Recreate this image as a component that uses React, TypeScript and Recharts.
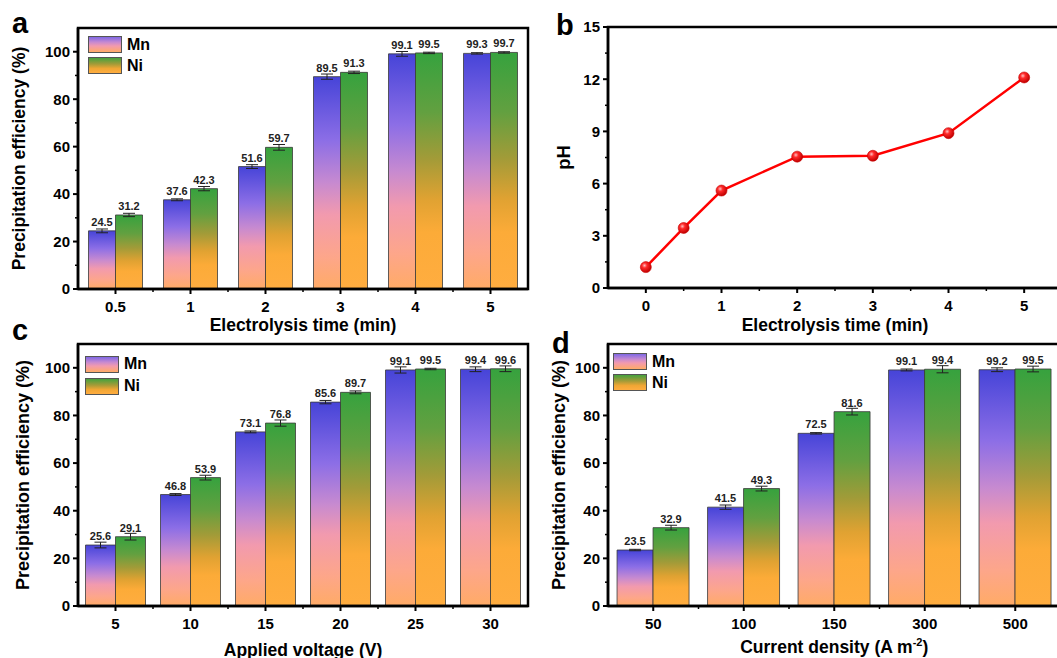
import React from 'react'
import { BarChart, Bar, LineChart, Line, XAxis, YAxis, ErrorBar, LabelList, Legend } from 'recharts'

const FONT = 'Arial, "Liberation Sans", Helvetica, sans-serif'

// (a) precipitation vs electrolysis time
const timeCategories = ['0.5', '1', '2', '3', '4', '5']
const mnByTime = [24.5, 37.6, 51.6, 89.5, 99.1, 99.3]
const niByTime = [31.2, 42.3, 59.7, 91.3, 99.5, 99.7]
const mnByTimeErr = [0.8, 0.4, 0.8, 1.1, 1.0, 0.3]
const niByTimeErr = [0.7, 0.9, 1.2, 0.5, 0.3, 0.3]

// (b) pH vs electrolysis time
const phTimes = [0, 0.5, 1, 2, 3, 4, 5]
const phValues = [1.2, 3.45, 5.6, 7.55, 7.6, 8.9, 12.1]

// (c) precipitation vs applied voltage
const voltageCategories = ['5', '10', '15', '20', '25', '30']
const mnByVoltage = [25.6, 46.8, 73.1, 85.6, 99.1, 99.4]
const niByVoltage = [29.1, 53.9, 76.8, 89.7, 99.5, 99.6]
const mnByVoltageErr = [1.2, 0.4, 0.4, 0.7, 1.3, 1.0]
const niByVoltageErr = [1.4, 1.0, 1.3, 0.6, 0.3, 1.2]

// (d) precipitation vs current density
const currentCategories = ['50', '100', '150', '300', '500']
const mnByCurrent = [23.5, 41.5, 72.5, 99.1, 99.2]
const niByCurrent = [32.9, 49.3, 81.6, 99.4, 99.5]
const mnByCurrentErr = [0.3, 0.9, 0.3, 0.4, 0.8]
const niByCurrentErr = [1.0, 1.0, 1.4, 1.5, 1.2]

// axis ticks (odd ones are minor, unlabeled)
const pctDomain = [0, 110]
const pctTicks = [0, 10, 20, 30, 40, 50, 60, 70, 80, 90, 100]
const phDomain = [0, 15]
const phTicks = [0, 1.5, 3, 4.5, 6, 7.5, 9, 10.5, 12, 13.5, 15]
const phTimeDomain = [-0.5, 5.5]
const phTimeTicks = [0, 0.5, 1, 1.5, 2, 2.5, 3, 3.5, 4, 4.5, 5]

const Y_AXIS_W = 78
const AXIS_W = 2.5
const axisStyle = { stroke: '#000', strokeWidth: AXIS_W }
const tickText = { fontFamily: FONT, fontSize: 15, fontWeight: 700, fill: '#000' }

interface Box {
  left: number
  top: number
  width: number
  height: number
  plotTop: number
  rightMargin: number
  xAxisHeight: number
}

const boxA: Box = { left: 0, top: 0, width: 540, height: 335, plotTop: 28, rightMargin: 12, xAxisHeight: 46 }
const boxB: Box = { left: 530, top: 0, width: 545, height: 335, plotTop: 27, rightMargin: 13, xAxisHeight: 47 }
const boxC: Box = { left: 0, top: 316, width: 540, height: 342, plotTop: 28, rightMargin: 12, xAxisHeight: 52 }
const boxD: Box = { left: 530, top: 316, width: 545, height: 342, plotTop: 28, rightMargin: 14.5, xAxisHeight: 52 }

const plotRect = (b: Box) => ({
  x: b.left + Y_AXIS_W,
  y: b.top + b.plotTop,
  w: b.width - Y_AXIS_W - b.rightMargin,
  h: b.height - b.plotTop - b.xAxisHeight,
})

const legendSwatch: Record<string, string> = {
  mn: 'linear-gradient(to bottom, #7f68e4 0%, #c78ad0 35%, #f29aae 60%, #ffab66 100%)',
  ni: 'linear-gradient(to bottom, #45a23e 0%, #a39b38 40%, #f0a634 70%, #ffad40 100%)',
}

function makeYTick(isMajor: (v: number) => boolean) {
  return (props: any) => {
    const { x, y, payload } = props
    const major = isMajor(payload.value)
    return (
      <g>
        <line x1={x - (major ? 5 : 3)} x2={x} y1={y} y2={y} stroke="#000" strokeWidth={major ? 2 : 1.5} />
        {major && (
          <text x={x - 8} y={y} dy="0.36em" textAnchor="end" style={tickText}>
            {payload.value}
          </text>
        )}
      </g>
    )
  }
}

function makeBandTick(step: number, count: number) {
  return (props: any) => {
    const { x, y, payload, index } = props
    return (
      <g>
        <line x1={x} x2={x} y1={y} y2={y + 5} stroke="#000" strokeWidth={2} />
        {index < count - 1 && (
          <line x1={x + step / 2} x2={x + step / 2} y1={y} y2={y + 3} stroke="#000" strokeWidth={1.5} />
        )}
        <text x={x} y={y + 23} textAnchor="middle" style={tickText}>
          {payload.value}
        </text>
      </g>
    )
  }
}

function makeXTitle(text: React.ReactNode, baseline: number) {
  return (props: any) => {
    const { x, y, width } = props.viewBox
    return (
      <text x={x + width / 2} y={y + baseline} textAnchor="middle" style={{ ...tickText, fontSize: 17.5 }}>
        {text}
      </text>
    )
  }
}

function makeYTitle(text: string, cxOffset: number, size = 17.5) {
  return (props: any) => {
    const { x, y, height } = props.viewBox
    const cx = x + cxOffset
    const cy = y + height / 2
    return (
      <text
        x={cx}
        y={cy}
        transform={`rotate(-90 ${cx} ${cy})`}
        textAnchor="middle"
        dominantBaseline="central"
        style={{ ...tickText, fontSize: size }}
      >
        {text}
      </text>
    )
  }
}

function SwatchLegend({ payload, row }: { payload?: any[]; row: number }) {
  return (
    <div style={{ fontFamily: FONT }}>
      {(payload || []).map((entry: any) => (
        <div key={entry.value} style={{ display: 'flex', alignItems: 'center', height: row }}>
          <div
            style={{
              width: 34,
              height: 17,
              boxSizing: 'border-box',
              border: '1px solid #555',
              background: legendSwatch[entry.dataKey],
            }}
          />
          <span style={{ marginLeft: 5, fontSize: 16, fontWeight: 700, color: '#000' }}>{entry.value}</span>
        </div>
      ))}
    </div>
  )
}

interface BarPanelProps {
  id: string
  box: Box
  categories: string[]
  mn: number[]
  ni: number[]
  mnErr: number[]
  niErr: number[]
  categoryGap: string
  xTitle: React.ReactNode
  xTitleBaseline: number
  yTitleX: number
  yTitleSize: number
  legendLeft: number
  legendTop: number
  legendRow: number
}

function BarPanel(p: BarPanelProps) {
  const b = p.box
  const data = p.categories.map((name, i) => ({
    name,
    mn: p.mn[i],
    ni: p.ni[i],
    mnErr: p.mnErr[i],
    niErr: p.niErr[i],
  }))
  const step = plotRect(b).w / p.categories.length
  const labelProps = { fontFamily: FONT, fontSize: 11, fontWeight: 700, fill: '#222' }
  return (
    <div style={{ position: 'absolute', left: b.left, top: b.top }}>
      <BarChart
        width={b.width}
        height={b.height}
        data={data}
        margin={{ top: b.plotTop, right: b.rightMargin, bottom: 0, left: 0 }}
        barCategoryGap={p.categoryGap}
        barGap={0}
      >
        <defs>
          <linearGradient id={`mn-${p.id}`} x1="0" y1="0" x2="0" y2="1">
            <stop offset="0%" stopColor="#4644d8" />
            <stop offset="30%" stopColor="#8c6ee6" />
            <stop offset="50%" stopColor="#c78ad0" />
            <stop offset="65%" stopColor="#f29aae" />
            <stop offset="85%" stopColor="#fda68a" />
            <stop offset="100%" stopColor="#ffab66" />
          </linearGradient>
          <linearGradient id={`ni-${p.id}`} x1="0" y1="0" x2="0" y2="1">
            <stop offset="0%" stopColor="#36a23e" />
            <stop offset="25%" stopColor="#62a040" />
            <stop offset="45%" stopColor="#a39b38" />
            <stop offset="62%" stopColor="#e0a232" />
            <stop offset="76%" stopColor="#fcab38" />
            <stop offset="100%" stopColor="#ffad40" />
          </linearGradient>
        </defs>
        <XAxis
          dataKey="name"
          height={b.xAxisHeight}
          interval={0}
          tickLine={false}
          tickSize={0}
          tickMargin={0}
          axisLine={axisStyle}
          tick={makeBandTick(step, p.categories.length)}
          label={makeXTitle(p.xTitle, p.xTitleBaseline)}
        />
        <YAxis
          domain={pctDomain}
          ticks={pctTicks}
          interval={0}
          width={Y_AXIS_W}
          tickLine={false}
          tickSize={0}
          tickMargin={0}
          axisLine={axisStyle}
          tick={makeYTick((v) => v % 20 === 0)}
          label={makeYTitle('Precipitation efficiency (%)', p.yTitleX, p.yTitleSize)}
        />
        <Legend
          layout="vertical"
          align="center"
          verticalAlign="middle"
          wrapperStyle={{ left: p.legendLeft, top: p.legendTop, width: 'auto' }}
          content={(props: any) => <SwatchLegend payload={props.payload} row={p.legendRow} />}
        />
        <Bar dataKey="mn" name="Mn" fill={`url(#mn-${p.id})`} stroke="#3a3a3a" strokeWidth={0.8} isAnimationActive={false}>
          <ErrorBar dataKey="mnErr" width={6} stroke="#222" strokeWidth={1} />
          <LabelList dataKey="mn" position="top" offset={5} {...labelProps} />
        </Bar>
        <Bar dataKey="ni" name="Ni" fill={`url(#ni-${p.id})`} stroke="#3a3a3a" strokeWidth={0.8} isAnimationActive={false}>
          <ErrorBar dataKey="niErr" width={6} stroke="#222" strokeWidth={1} />
          <LabelList dataKey="ni" position="top" offset={5} {...labelProps} />
        </Bar>
      </BarChart>
    </div>
  )
}

function PhPanel() {
  const b = boxB
  const data = phTimes.map((t, i) => ({ t, ph: phValues[i] }))
  const isInt = (v: number) => Math.abs(v - Math.round(v)) < 1e-6
  const phTimeTick = (props: any) => {
    const { x, y, payload } = props
    const major = isInt(payload.value)
    return (
      <g>
        <line x1={x} x2={x} y1={y} y2={y + (major ? 5 : 3)} stroke="#000" strokeWidth={major ? 2 : 1.5} />
        {major && (
          <text x={x} y={y + 23} textAnchor="middle" style={tickText}>
            {payload.value}
          </text>
        )}
      </g>
    )
  }
  const dot = (props: any) => (
    <circle key={`dot-${props.index}`} cx={props.cx} cy={props.cy} r={5.5} fill="url(#ph-sphere)" stroke="#c80000" strokeWidth={0.6} />
  )
  return (
    <div style={{ position: 'absolute', left: b.left, top: b.top }}>
      <LineChart width={b.width} height={b.height} data={data} margin={{ top: b.plotTop, right: b.rightMargin, bottom: 0, left: 0 }}>
        <defs>
          <radialGradient id="ph-sphere" cx="38%" cy="35%" r="65%">
            <stop offset="0%" stopColor="#ffc0c0" />
            <stop offset="35%" stopColor="#ff2a2a" />
            <stop offset="100%" stopColor="#c00000" />
          </radialGradient>
        </defs>
        <XAxis
          dataKey="t"
          type="number"
          domain={phTimeDomain}
          ticks={phTimeTicks}
          interval={0}
          height={b.xAxisHeight}
          tickLine={false}
          tickSize={0}
          tickMargin={0}
          axisLine={axisStyle}
          tick={phTimeTick}
          label={makeXTitle('Electrolysis time (min)', 43)}
        />
        <YAxis
          domain={phDomain}
          ticks={phTicks}
          interval={0}
          width={Y_AXIS_W}
          tickLine={false}
          tickSize={0}
          tickMargin={0}
          axisLine={axisStyle}
          tick={makeYTick((v) => isInt(v / 3))}
          label={makeYTitle('pH', 33, 18.5)}
        />
        <Line type="linear" dataKey="ph" stroke="#ff0000" strokeWidth={2.5} dot={dot} activeDot={false} isAnimationActive={false} />
      </LineChart>
    </div>
  )
}

export default function App() {
  const panelLetter = { fontFamily: FONT, fontSize: 29, fontWeight: 700, fill: '#000' }
  const frames = [boxA, boxB, boxC, boxD].map(plotRect)
  return (
    <div
      style={{
        position: 'absolute',
        left: 0,
        top: 0,
        width: 1057,
        height: 658,
        overflow: 'hidden',
        background: '#fff',
        fontFamily: FONT,
      }}
    >
      <BarPanel
        id="a"
        box={boxA}
        categories={timeCategories}
        mn={mnByTime}
        ni={niByTime}
        mnErr={mnByTimeErr}
        niErr={niByTimeErr}
        categoryGap="14%"
        xTitle="Electrolysis time (min)"
        xTitleBaseline={42}
        yTitleX={19}
        yTitleSize={17.5}
        legendLeft={88}
        legendTop={34}
        legendRow={21}
      />
      <PhPanel />
      <BarPanel
        id="c"
        box={boxC}
        categories={voltageCategories}
        mn={mnByVoltage}
        ni={niByVoltage}
        mnErr={mnByVoltageErr}
        niErr={niByVoltageErr}
        categoryGap="10%"
        xTitle="Applied voltage (V)"
        xTitleBaseline={50}
        yTitleX={23}
        yTitleSize={18}
        legendLeft={85}
        legendTop={37}
        legendRow={22}
      />
      <BarPanel
        id="d"
        box={boxD}
        categories={currentCategories}
        mn={mnByCurrent}
        ni={niByCurrent}
        mnErr={mnByCurrentErr}
        niErr={niByCurrentErr}
        categoryGap="10%"
        xTitle={
          <>
            Current density (A m
            <tspan dy={-7} fontSize={11}>
              -2
            </tspan>
            <tspan dy={7}>)</tspan>
          </>
        }
        xTitleBaseline={46.5}
        yTitleX={29}
        yTitleSize={18}
        legendLeft={83}
        legendTop={35}
        legendRow={21}
      />
      {/* panel letters and the closed box around each plot area */}
      <svg width={1057} height={658} style={{ position: 'absolute', left: 0, top: 0, pointerEvents: 'none' }}>
        {frames.map((f, i) => (
          <rect key={i} x={f.x} y={f.y} width={f.w} height={f.h} fill="none" stroke="#000" strokeWidth={AXIS_W} />
        ))}
        <text x={12} y={33} style={panelLetter}>a</text>
        <text x={556} y={35} style={panelLetter}>b</text>
        <text x={12} y={340} style={panelLetter}>c</text>
        <text x={552} y={353} style={panelLetter}>d</text>
      </svg>
    </div>
  )
}
